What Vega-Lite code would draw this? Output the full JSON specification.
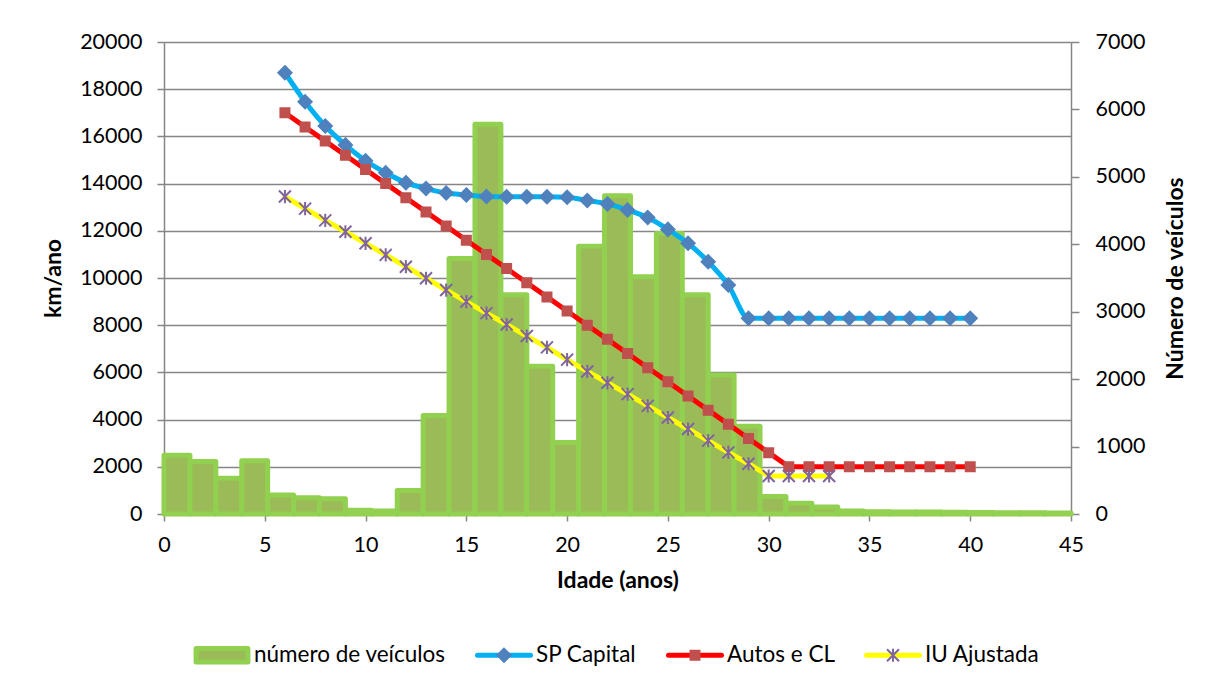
{
  "$schema": "https://vega.github.io/schema/vega-lite/v6.json",
  "width": 907,
  "height": 472,
  "autosize": {"type": "none"},
  "padding": {"left": 164, "top": 42, "right": 146, "bottom": 172},
  "background": "white",
  "config": {
    "font": "Lato",
    "view": {"stroke": null},
    "axis": {
      "labelFont": "Lato",
      "labelFontSize": 21.5,
      "labelColor": "#000000",
      "labelFlush": false,
      "format": "d",
      "titleFont": "Lato",
      "titleFontSize": 23,
      "titleFontWeight": "bold",
      "titleColor": "#000000",
      "domainColor": "#868686",
      "domainWidth": 1.5,
      "tickColor": "#868686",
      "tickWidth": 1.5,
      "gridColor": "#868686",
      "gridWidth": 1.3
    }
  },
  "datasets": {
    "frota": [
      {"classe": 0, "veiculos": 870},
      {"classe": 1, "veiculos": 780},
      {"classe": 2, "veiculos": 530},
      {"classe": 3, "veiculos": 790},
      {"classe": 4, "veiculos": 280},
      {"classe": 5, "veiculos": 240},
      {"classe": 6, "veiculos": 225},
      {"classe": 7, "veiculos": 55},
      {"classe": 8, "veiculos": 45},
      {"classe": 9, "veiculos": 350},
      {"classe": 10, "veiculos": 1460},
      {"classe": 11, "veiculos": 3790},
      {"classe": 12, "veiculos": 5780},
      {"classe": 13, "veiculos": 3250},
      {"classe": 14, "veiculos": 2190},
      {"classe": 15, "veiculos": 1060},
      {"classe": 16, "veiculos": 3970},
      {"classe": 17, "veiculos": 4720},
      {"classe": 18, "veiculos": 3520},
      {"classe": 19, "veiculos": 4160},
      {"classe": 20, "veiculos": 3250},
      {"classe": 21, "veiculos": 2060},
      {"classe": 22, "veiculos": 1300},
      {"classe": 23, "veiculos": 260},
      {"classe": 24, "veiculos": 160},
      {"classe": 25, "veiculos": 105},
      {"classe": 26, "veiculos": 45},
      {"classe": 27, "veiculos": 35},
      {"classe": 28, "veiculos": 30},
      {"classe": 29, "veiculos": 28},
      {"classe": 30, "veiculos": 25},
      {"classe": 31, "veiculos": 22},
      {"classe": 32, "veiculos": 20},
      {"classe": 33, "veiculos": 18},
      {"classe": 34, "veiculos": 15}
    ],
    "km": [
      {"idade": 6, "km": 18700, "serie": "SP Capital"},
      {"idade": 7, "km": 17470, "serie": "SP Capital"},
      {"idade": 8, "km": 16440, "serie": "SP Capital"},
      {"idade": 9, "km": 15640, "serie": "SP Capital"},
      {"idade": 10, "km": 14970, "serie": "SP Capital"},
      {"idade": 11, "km": 14460, "serie": "SP Capital"},
      {"idade": 12, "km": 14040, "serie": "SP Capital"},
      {"idade": 13, "km": 13790, "serie": "SP Capital"},
      {"idade": 14, "km": 13600, "serie": "SP Capital"},
      {"idade": 15, "km": 13520, "serie": "SP Capital"},
      {"idade": 16, "km": 13450, "serie": "SP Capital"},
      {"idade": 17, "km": 13440, "serie": "SP Capital"},
      {"idade": 18, "km": 13440, "serie": "SP Capital"},
      {"idade": 19, "km": 13440, "serie": "SP Capital"},
      {"idade": 20, "km": 13420, "serie": "SP Capital"},
      {"idade": 21, "km": 13280, "serie": "SP Capital"},
      {"idade": 22, "km": 13140, "serie": "SP Capital"},
      {"idade": 23, "km": 12880, "serie": "SP Capital"},
      {"idade": 24, "km": 12560, "serie": "SP Capital"},
      {"idade": 25, "km": 12060, "serie": "SP Capital"},
      {"idade": 26, "km": 11470, "serie": "SP Capital"},
      {"idade": 27, "km": 10690, "serie": "SP Capital"},
      {"idade": 28, "km": 9700, "serie": "SP Capital"},
      {"idade": 29, "km": 8290, "serie": "SP Capital"},
      {"idade": 30, "km": 8290, "serie": "SP Capital"},
      {"idade": 31, "km": 8290, "serie": "SP Capital"},
      {"idade": 32, "km": 8290, "serie": "SP Capital"},
      {"idade": 33, "km": 8290, "serie": "SP Capital"},
      {"idade": 34, "km": 8290, "serie": "SP Capital"},
      {"idade": 35, "km": 8290, "serie": "SP Capital"},
      {"idade": 36, "km": 8290, "serie": "SP Capital"},
      {"idade": 37, "km": 8290, "serie": "SP Capital"},
      {"idade": 38, "km": 8290, "serie": "SP Capital"},
      {"idade": 39, "km": 8290, "serie": "SP Capital"},
      {"idade": 40, "km": 8290, "serie": "SP Capital"},
      {"idade": 6, "km": 17000, "serie": "Autos e CL"},
      {"idade": 7, "km": 16400, "serie": "Autos e CL"},
      {"idade": 8, "km": 15800, "serie": "Autos e CL"},
      {"idade": 9, "km": 15200, "serie": "Autos e CL"},
      {"idade": 10, "km": 14600, "serie": "Autos e CL"},
      {"idade": 11, "km": 14000, "serie": "Autos e CL"},
      {"idade": 12, "km": 13400, "serie": "Autos e CL"},
      {"idade": 13, "km": 12800, "serie": "Autos e CL"},
      {"idade": 14, "km": 12200, "serie": "Autos e CL"},
      {"idade": 15, "km": 11600, "serie": "Autos e CL"},
      {"idade": 16, "km": 11000, "serie": "Autos e CL"},
      {"idade": 17, "km": 10400, "serie": "Autos e CL"},
      {"idade": 18, "km": 9800, "serie": "Autos e CL"},
      {"idade": 19, "km": 9200, "serie": "Autos e CL"},
      {"idade": 20, "km": 8600, "serie": "Autos e CL"},
      {"idade": 21, "km": 8000, "serie": "Autos e CL"},
      {"idade": 22, "km": 7400, "serie": "Autos e CL"},
      {"idade": 23, "km": 6800, "serie": "Autos e CL"},
      {"idade": 24, "km": 6200, "serie": "Autos e CL"},
      {"idade": 25, "km": 5600, "serie": "Autos e CL"},
      {"idade": 26, "km": 5000, "serie": "Autos e CL"},
      {"idade": 27, "km": 4400, "serie": "Autos e CL"},
      {"idade": 28, "km": 3800, "serie": "Autos e CL"},
      {"idade": 29, "km": 3200, "serie": "Autos e CL"},
      {"idade": 30, "km": 2600, "serie": "Autos e CL"},
      {"idade": 31, "km": 2000, "serie": "Autos e CL"},
      {"idade": 32, "km": 2000, "serie": "Autos e CL"},
      {"idade": 33, "km": 2000, "serie": "Autos e CL"},
      {"idade": 34, "km": 2000, "serie": "Autos e CL"},
      {"idade": 35, "km": 2000, "serie": "Autos e CL"},
      {"idade": 36, "km": 2000, "serie": "Autos e CL"},
      {"idade": 37, "km": 2000, "serie": "Autos e CL"},
      {"idade": 38, "km": 2000, "serie": "Autos e CL"},
      {"idade": 39, "km": 2000, "serie": "Autos e CL"},
      {"idade": 40, "km": 2000, "serie": "Autos e CL"},
      {"idade": 6, "km": 13450, "serie": "IU Ajustada"},
      {"idade": 7, "km": 12940, "serie": "IU Ajustada"},
      {"idade": 8, "km": 12440, "serie": "IU Ajustada"},
      {"idade": 9, "km": 11960, "serie": "IU Ajustada"},
      {"idade": 10, "km": 11470, "serie": "IU Ajustada"},
      {"idade": 11, "km": 10980, "serie": "IU Ajustada"},
      {"idade": 12, "km": 10480, "serie": "IU Ajustada"},
      {"idade": 13, "km": 9990, "serie": "IU Ajustada"},
      {"idade": 14, "km": 9490, "serie": "IU Ajustada"},
      {"idade": 15, "km": 9000, "serie": "IU Ajustada"},
      {"idade": 16, "km": 8510, "serie": "IU Ajustada"},
      {"idade": 17, "km": 8030, "serie": "IU Ajustada"},
      {"idade": 18, "km": 7540, "serie": "IU Ajustada"},
      {"idade": 19, "km": 7060, "serie": "IU Ajustada"},
      {"idade": 20, "km": 6540, "serie": "IU Ajustada"},
      {"idade": 21, "km": 6040, "serie": "IU Ajustada"},
      {"idade": 22, "km": 5560, "serie": "IU Ajustada"},
      {"idade": 23, "km": 5080, "serie": "IU Ajustada"},
      {"idade": 24, "km": 4580, "serie": "IU Ajustada"},
      {"idade": 25, "km": 4090, "serie": "IU Ajustada"},
      {"idade": 26, "km": 3600, "serie": "IU Ajustada"},
      {"idade": 27, "km": 3110, "serie": "IU Ajustada"},
      {"idade": 28, "km": 2610, "serie": "IU Ajustada"},
      {"idade": 29, "km": 2130, "serie": "IU Ajustada"},
      {"idade": 30, "km": 1610, "serie": "IU Ajustada"},
      {"idade": 31, "km": 1610, "serie": "IU Ajustada"},
      {"idade": 32, "km": 1610, "serie": "IU Ajustada"},
      {"idade": 33, "km": 1610, "serie": "IU Ajustada"}
    ]
  },
  "layer": [
    {
      "data": {"name": "frota"},
      "mark": {"type": "bar", "fill": "#9BBB59", "stroke": "#92D050", "strokeWidth": 5, "strokeJoin": "round"},
      "encoding": {
        "x": {"field": "classe", "type": "ordinal", "scale": {"paddingInner": 0, "paddingOuter": 0}, "axis": null},
        "y": {
          "field": "veiculos",
          "type": "quantitative",
          "scale": {"domain": [0, 7000], "nice": false},
          "axis": {
            "orient": "right",
            "values": [0, 1000, 2000, 3000, 4000, 5000, 6000, 7000],
            "grid": false,
            "tickSize": 8,
            "labelPadding": 16,
            "title": "Número de veículos",
            "titleAngle": 270,
            "titleBaseline": "top",
            "titlePadding": 20
          }
        }
      }
    },
    {
      "data": {"name": "km"},
      "encoding": {
        "x": {
          "field": "idade",
          "type": "quantitative",
          "scale": {"domain": [0, 45], "nice": false},
          "axis": {
            "values": [0, 5, 10, 15, 20, 25, 30, 35, 40, 45],
            "grid": false,
            "tickSize": 7,
            "labelPadding": 13,
            "title": "Idade (anos)",
            "titlePadding": 14
          }
        },
        "y": {
          "field": "km",
          "type": "quantitative",
          "scale": {"domain": [0, 20000], "nice": false},
          "axis": {
            "values": [0, 2000, 4000, 6000, 8000, 10000, 12000, 14000, 16000, 18000, 20000],
            "grid": true,
            "tickSize": 7,
            "labelPadding": 15,
            "title": "km/ano",
            "titlePadding": 14
          }
        }
      },
      "layer": [
        {
          "transform": [{"filter": "datum.serie === 'SP Capital'"}],
          "mark": {"type": "line", "interpolate": "monotone", "strokeWidth": 5, "strokeCap": "round", "strokeJoin": "round"},
          "encoding": {
            "color": {
              "field": "serie",
              "type": "nominal",
              "scale": {
                "domain": ["número de veículos", "SP Capital", "Autos e CL", "IU Ajustada"],
                "range": ["#92D050", "#00B0F0", "#FF0000", "#FFFF00"]
              },
              "legend": {
                "orient": "none",
                "legendX": 27,
                "legendY": 582,
                "direction": "horizontal",
                "title": null,
                "padding": 0,
                "symbolSize": 3249,
                "symbolStrokeWidth": 5,
                "symbolType": "M-0.93,0H0.93",
                "labelFont": "Lato",
                "labelFontSize": 22.5,
                "labelColor": "#000000",
                "labelOffset": 1,
                "labelLimit": 400,
                "columnPadding": 27,
                "encode": {
                  "symbols": {
                    "update": {
                      "shape": {"signal": "datum.value === 'número de veículos' ? 'M-0.91,-0.24H0.91V0.24H-0.91Z' : 'M-0.93,0H0.93'"},
                      "fill": {"signal": "datum.value === 'número de veículos' ? '#9BBB59' : 'transparent'"},
                      "stroke": {"signal": "datum.value === 'número de veículos' ? '#92D050' : datum.value === 'SP Capital' ? '#00B0F0' : datum.value === 'Autos e CL' ? '#FF0000' : '#FFFF00'"},
                      "strokeCap": {"value": "round"},
                      "strokeJoin": {"value": "round"},
                      "opacity": {"value": 1}
                    }
                  }
                }
              }
            }
          }
        },
        {
          "transform": [{"filter": "datum.serie !== 'SP Capital'"}],
          "mark": {"type": "line", "strokeWidth": 5, "strokeCap": "round", "strokeJoin": "round"},
          "encoding": {
            "color": {"field": "serie", "type": "nominal"}
          }
        },
        {
          "mark": {"type": "point", "filled": true, "size": 3600, "strokeWidth": 2, "opacity": 1},
          "encoding": {
            "shape": {
              "field": "serie",
              "type": "nominal",
              "scale": {
                "domain": ["SP Capital", "Autos e CL", "IU Ajustada", "número de veículos"],
                "range": [
                  "M0,-0.22L0.22,0L0,0.22L-0.22,0Z",
                  "M-0.15,-0.15H0.15V0.15H-0.15Z",
                  "M-0.2,-0.2L0.2,0.2M-0.2,0.2L0.2,-0.2M0,-0.22V0.22",
                  "M0,0L0,0"
                ]
              },
              "legend": {
                "orient": "none",
                "legendX": 27,
                "legendY": 582,
                "direction": "horizontal",
                "title": null,
                "padding": 0,
                "values": ["número de veículos", "SP Capital", "Autos e CL", "IU Ajustada"],
                "symbolSize": 3600,
                "symbolStrokeWidth": 2,
                "labelFont": "Lato",
                "labelFontSize": 22.5,
                "labelOffset": 1,
                "labelLimit": 400,
                "labelOpacity": 0,
                "columnPadding": 27
              }
            },
            "fill": {
              "field": "serie",
              "type": "nominal",
              "scale": {
                "domain": ["SP Capital", "Autos e CL", "IU Ajustada", "número de veículos"],
                "range": ["#4F81BD", "#C0504D", "transparent", "transparent"]
              }
            },
            "stroke": {
              "field": "serie",
              "type": "nominal",
              "scale": {
                "domain": ["SP Capital", "Autos e CL", "IU Ajustada", "número de veículos"],
                "range": ["#4F81BD", "#C0504D", "#8064A2", "transparent"]
              }
            }
          }
        }
      ]
    }
  ],
  "resolve": {
    "scale": {"x": "independent", "y": "independent"},
    "axis": {"x": "independent", "y": "independent"}
  }
}
